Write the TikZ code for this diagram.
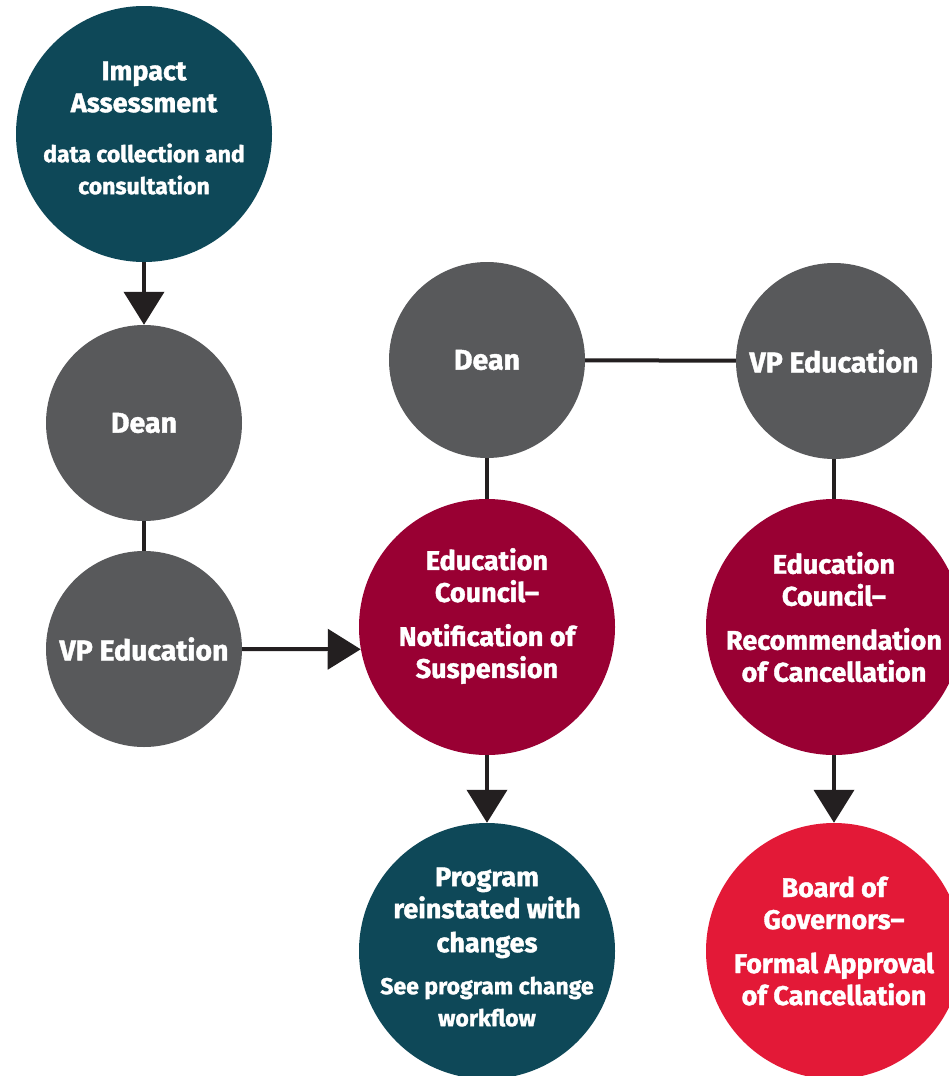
\documentclass[tikz,border=0pt]{standalone}
\usepackage{fontspec}
\setmainfont{Fira Sans}[BoldFeatures={FakeBold=1.4}]
\usetikzlibrary{arrows.meta}

\newcommand*{\colL}{144}
\newcommand*{\colM}{487}
\newcommand*{\colR}{834}
\newcommand*{\smalltext}{\fontsize{23}{29}\selectfont}

\definecolor{deepteal}{HTML}{0E4858}
\definecolor{slate}{HTML}{58595B}
\definecolor{maroon}{HTML}{990033}
\definecolor{brightred}{HTML}{E31937}
\definecolor{ink}{HTML}{231F20}

\begin{document}
\begin{tikzpicture}
[
	x=1pt,y=-1pt,
	stage/.style={circle,inner sep=0pt,text=white,align=center,font=\bfseries\fontsize{28.5}{32}\selectfont},
	bigstage/.style={stage,minimum size=256pt},
	smallstage/.style={stage,minimum size=196pt},
	caption/.style={inner sep=0pt,text=white,align=center,font=\bfseries\fontsize{27}{32}\selectfont},
	link/.style={ink,line width=4pt},
	flow/.style={link,-{Triangle[length=33pt,width=40pt]}}
]

	% page
	\fill[white] (0,0) rectangle (949,1076);
	\clip (0,0) rectangle (949,1076);

	% left column
	\node[bigstage,fill=deepteal] (impact) at (\colL,134) {};
	\node[caption] (impactText) at (\colL,128) {Impact\\Assessment\\[18pt]\smalltext data collection and\\\smalltext consultation};
	\node[smallstage,fill=slate] (deanA) at (\colL,423) {Dean};
	\node[smallstage,fill=slate] (vpA) at (\colL,649) {VP Education};

	% top row
	\node[smallstage,fill=slate] (deanB) at (\colM,360) {Dean};
	\node[smallstage,fill=slate] (vpB) at (\colR,361) {VP Education};

	% councils
	\node[bigstage,fill=maroon] (councilA) at (\colM,627) {};
	\node[caption] (councilAText) at (\colM,616) {Education\\Council--\\[12pt]Notification of\\Suspension};
	\node[bigstage,fill=maroon] (councilB) at (\colR,627) {};
	\node[caption] (councilBText) at (\colR,617) {Education\\Council--\\[12pt]Recommendation\\of Cancellation};

	% outcomes
	\node[bigstage,fill=deepteal] (reinstate) at (\colM,951) {};
	\node[caption] (reinstateText) at (\colM,947) {Program\\reinstated with\\[2pt]changes\\[10pt]\smalltext See program change\\\smalltext workflow};
	\node[bigstage,fill=brightred] (board) at (\colR,951) {};
	\node[caption] (boardText) at (\colR,941) {Board of\\Governors--\\[12pt]Formal Approval\\of Cancellation};

	% connectors
	\draw[flow] (impact) -- (deanA);
	\draw[link] (deanA) -- (vpA);
	\draw[flow] (vpA) -- (councilA.190);
	\draw[link] (deanB) -- (vpB);
	\draw[link] (deanB) -- (councilA);
	\draw[link] (vpB) -- (councilB);
	\draw[flow] (councilA) -- (reinstate);
	\draw[flow] (councilB) -- (board);

\end{tikzpicture}
\end{document}
